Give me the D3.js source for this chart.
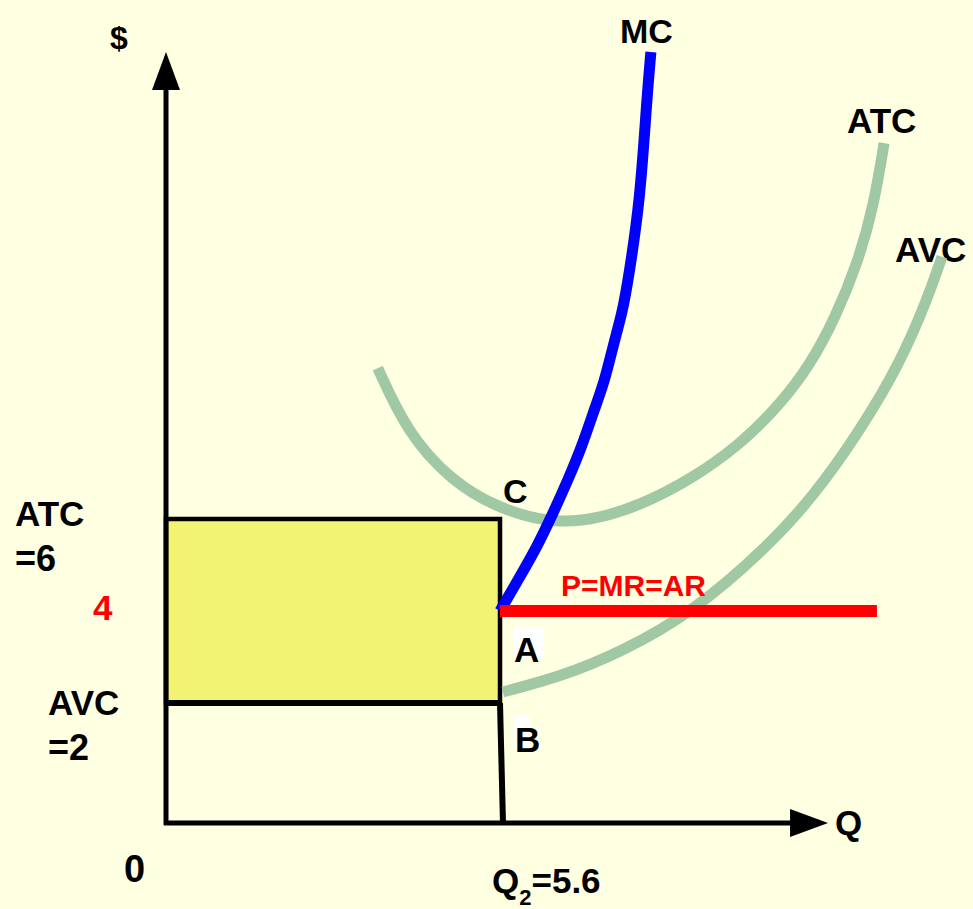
<!DOCTYPE html>
<html>
<head>
<meta charset="utf-8">
<script src="https://cdn.jsdelivr.net/npm/d3@7"></script>
<style>
body { margin: 0; background: #FFFFE1; }
text { font-family: "Liberation Sans", Arial, sans-serif; font-weight: bold; }
</style>
</head>
<body>
<div id="chart"></div>
<script>
// key values of the diagram
const q2 = 5.6
const price = 4
const atcAtQ2 = 6
const avcAtQ2 = 2
const qMax = 11.1      // end of Q axis
const pMax = 16.15     // end of $ axis
const priceEnd = 11.92 // where the P=MR=AR line stops

// curves (quantity, $)
const mcQ = [5.6, 5.9, 6.22, 6.49, 6.74, 6.97, 7.16, 7.36, 7.49, 7.65, 7.75, 7.95, 8.06, 8.13]
const mcP = [4, 4.67, 5.39, 6.13, 6.85, 7.57, 8.3, 9.02, 9.74, 10.48, 11.2, 12.93, 15.11, 16.15]

const atcQ = [3.55, 4.04, 4.76, 5.6, 6.56, 7.28, 7.95, 8.79, 9.62, 10.29, 10.8, 11.22, 11.6, 11.87, 12.04]
const atcP = [9.28, 7.89, 6.85, 6.2, 5.89, 6.02, 6.3, 6.85, 7.61, 8.48, 9.35, 10.37, 11.57, 12.83, 14.17]

const avcQ = [5.65, 6.61, 7.61, 8.84, 10.08, 10.85, 11.64, 12.31, 12.78, 13.01]
const avcP = [2.24, 2.57, 3.09, 3.98, 5.39, 6.48, 7.93, 9.39, 10.83, 11.7]

const width = 973, height = 909

const svg = d3.select("#chart")
    .append("svg")
        .attr("width", width)
        .attr("height", height)

svg.append("rect")
    .attr("width", width)
    .attr("height", height)
    .attr("fill", "#FFFFE1")

// scales (the $ axis is not evenly spaced in the original drawing)
const x = d3.scaleLinear()
    .domain([0, q2])
    .range([166, 500])
const y = d3.scaleLinear()
    .domain([0, avcAtQ2, atcAtQ2])
    .range([823, 703, 519])

// basis spline smooths out the reading error in the points
const line = d3.line()
    .x(d => x(d[0]))
    .y(d => y(d[1]))
    .curve(d3.curveBasis)

// loss rectangle
svg.append("rect")
    .attr("x", x(0))
    .attr("y", y(atcAtQ2))
    .attr("width", x(q2) - x(0))
    .attr("height", y(avcAtQ2) - y(atcAtQ2))
    .attr("fill", "#F3F373")
    .attr("stroke", "black")
    .attr("stroke-width", 4.5)

// AVC level and drop line to Q2
svg.append("line")
    .attr("x1", x(0)).attr("y1", y(avcAtQ2))
    .attr("x2", x(q2)).attr("y2", y(avcAtQ2))
    .attr("stroke", "black").attr("stroke-width", 6)
svg.append("line")
    .attr("x1", x(q2)).attr("y1", y(avcAtQ2))
    .attr("x2", x(5.65)).attr("y2", y(0))
    .attr("stroke", "black").attr("stroke-width", 6)

// axes with arrows
svg.append("line")
    .attr("x1", x(0)).attr("y1", y(0) + 2)
    .attr("x2", x(0)).attr("y2", y(pMax) + 30)
    .attr("stroke", "black").attr("stroke-width", 5)
svg.append("path")
    .attr("d", `M${x(0)},${y(pMax)} L${x(0) - 14},${y(pMax) + 38} L${x(0) + 14},${y(pMax) + 38} Z`)
    .attr("fill", "black")
svg.append("line")
    .attr("x1", x(0) - 2).attr("y1", y(0))
    .attr("x2", x(qMax) - 30).attr("y2", y(0))
    .attr("stroke", "black").attr("stroke-width", 5)
svg.append("path")
    .attr("d", `M${x(qMax)},${y(0)} L${x(qMax) - 38},${y(0) - 14} L${x(qMax) - 38},${y(0) + 14} Z`)
    .attr("fill", "black")

// AVC label sits under its curve
svg.append("text").attr("x", 895).attr("y", 262).attr("font-size", 35).text("AVC")

// cost curves
svg.append("path")
    .datum(d3.zip(atcQ, atcP))
    .attr("d", line)
    .attr("fill", "none")
    .attr("stroke", "#A0C8A5")
    .attr("stroke-width", 11)
svg.append("path")
    .datum(d3.zip(avcQ, avcP))
    .attr("d", line)
    .attr("fill", "none")
    .attr("stroke", "#A0C8A5")
    .attr("stroke-width", 11)
svg.append("path")
    .datum(d3.zip(mcQ, mcP))
    .attr("d", line)
    .attr("fill", "none")
    .attr("stroke", "#0000FF")
    .attr("stroke-width", 11)

// price line
svg.append("line")
    .attr("x1", x(q2)).attr("y1", y(price))
    .attr("x2", x(priceEnd)).attr("y2", y(price))
    .attr("stroke", "#FF0000").attr("stroke-width", 12)

// point labels with small white patches behind A and B
svg.append("rect").attr("x", 514).attr("y", 627).attr("width", 30).attr("height", 30).attr("fill", "white")
svg.append("rect").attr("x", 514).attr("y", 716).attr("width", 16).attr("height", 31).attr("fill", "white")

const labels = svg.append("g")
labels.append("text").attr("x", 110).attr("y", 49).attr("font-size", 32).text("$")
labels.append("text").attr("x", 620).attr("y", 43).attr("font-size", 34).text("MC")
labels.append("text").attr("x", 847).attr("y", 133).attr("font-size", 35).text("ATC")
labels.append("text").attr("x", 503).attr("y", 503).attr("font-size", 34).text("C")
labels.append("text").attr("x", 514).attr("y", 662).attr("font-size", 35).text("A")
labels.append("text").attr("x", 515).attr("y", 752).attr("font-size", 35).text("B")
labels.append("text").attr("x", 561).attr("y", 596).attr("font-size", 30)
    .attr("fill", "#FF0000").text("P=MR=AR")
labels.append("text").attr("x", 835).attr("y", y(0) + 12).attr("font-size", 35).text("Q")

// value labels on the $ axis
labels.append("text").attr("x", 15).attr("y", y(atcAtQ2) + 7).attr("font-size", 35).text("ATC")
labels.append("text").attr("x", 15).attr("y", y(atcAtQ2) + 52).attr("font-size", 36).text("=" + atcAtQ2)
labels.append("text").attr("x", 93).attr("y", y(price) + 9).attr("font-size", 35)
    .attr("fill", "#FF0000").text(price)
labels.append("text").attr("x", 48).attr("y", y(avcAtQ2) + 12).attr("font-size", 35).text("AVC")
labels.append("text").attr("x", 48).attr("y", y(avcAtQ2) + 57).attr("font-size", 36).text("=" + avcAtQ2)
labels.append("text").attr("x", 124).attr("y", 882).attr("font-size", 38).text("0")

// Q2 label on the Q axis
const qLabel = labels.append("text").attr("x", x(q2) - 8).attr("y", 893).attr("font-size", 35)
qLabel.append("tspan").text("Q")
qLabel.append("tspan").attr("font-size", 22).attr("dy", 12).text("2")
qLabel.append("tspan").attr("dy", -12).text("=" + q2)
</script>
</body>
</html>
